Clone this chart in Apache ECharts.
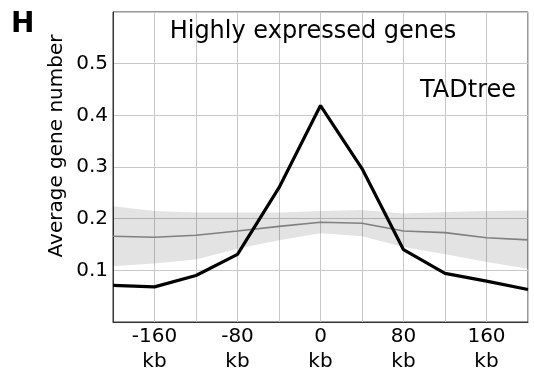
<!DOCTYPE html>
<html>
<head>
<meta charset="utf-8">
<script src="https://cdn.jsdelivr.net/npm/echarts@6/dist/echarts.min.js"></script>
<style>html,body{margin:0;padding:0;background:#fff}#c{width:534px;height:370px}</style>
</head>
<body>
<div id="c"></div>
<script>
const positions = [-200, -160, -120, -80, -40, 0, 40, 80, 120, 160, 200];
const observed = [0.071, 0.068, 0.090, 0.131, 0.260, 0.419, 0.297, 0.140, 0.094, 0.079, 0.063];
const expectedMean = [0.166, 0.164, 0.168, 0.176, 0.185, 0.193, 0.191, 0.176, 0.173, 0.163, 0.159];
const bandLower = [0.108, 0.113, 0.121, 0.142, 0.158, 0.172, 0.166, 0.145, 0.131, 0.116, 0.103];
const bandUpper = [0.224, 0.215, 0.212, 0.212, 0.212, 0.215, 0.217, 0.210, 0.213, 0.215, 0.216];
const xTickLabels = [-160, -80, 0, 80, 160];
const yTickLabels = [0.1, 0.2, 0.3, 0.4, 0.5];

const font = 'DejaVu Sans';
const pairs = (ys) => positions.map((x, i) => [x, ys[i]]);

const chart = echarts.init(document.getElementById('c'), null, {renderer: 'canvas'});
chart.setOption({
  animation: false,
  backgroundColor: '#fff',
  grid: {left: 113, right: 6, top: 12, bottom: 48, outerBoundsMode: 'none', containLabel: false,
         show: true, borderColor: '#333', borderWidth: 1, backgroundColor: 'transparent'},
  title: [
    {text: 'Highly expressed genes', left: 308, top: 15, textAlign: 'center',
     textStyle: {fontFamily: font, fontSize: 24, fontWeight: 'normal', color: '#000'}},
    {text: 'TADtree', right: 13, top: 74,
     textStyle: {fontFamily: font, fontSize: 24, fontWeight: 'normal', color: '#000'}},
    {text: 'H', left: 6, top: 6,
     textStyle: {fontFamily: font, fontSize: 28, fontWeight: 'bold', color: '#000'}}
  ],
  graphic: [
    {type: 'text', x: 57, y: 146, rotation: Math.PI / 2, z: 10,
     style: {text: 'Average gene number', font: '20px "DejaVu Sans"', fill: '#000', align: 'center', verticalAlign: 'middle'}}
  ],
  xAxis: {
    type: 'value', min: -200, max: 200, interval: 40,
    axisLine: {show: true, onZero: false, lineStyle: {color: '#333', width: 1}},
    axisTick: {show: false},
    splitLine: {show: true, lineStyle: {color: '#c8c8c8', width: 1}},
    axisLabel: {
      fontFamily: font, fontSize: 20, color: '#000', lineHeight: 25, margin: 2,
      showMinLabel: false, showMaxLabel: false,
      formatter: (v) => xTickLabels.indexOf(v) >= 0 ? v + '\nkb' : ''
    }
  },
  yAxis: {
    type: 'value', min: 0, max: 0.6, interval: 0.1,
    axisLine: {show: true, onZero: false, lineStyle: {color: '#333', width: 1}},
    axisTick: {show: false},
    splitLine: {show: true, lineStyle: {color: '#c8c8c8', width: 1}},
    axisLabel: {
      fontFamily: font, fontSize: 20, color: '#000', margin: 5,
      formatter: (v) => { const r = Math.round(v * 10) / 10; return yTickLabels.indexOf(r) >= 0 ? r.toFixed(1) : ''; }
    }
  },
  series: [
    {type: 'custom', silent: true, z: 1,
     data: positions.map((x, i) => [x, bandLower[i], bandUpper[i]]),
     renderItem: (params, api) => {
       if (params.dataIndex !== 0) return null;
       const upper = positions.map((x, i) => api.coord([x, bandUpper[i]]));
       const lower = positions.map((x, i) => api.coord([x, bandLower[i]])).reverse();
       return {type: 'polygon', shape: {points: upper.concat(lower)}, style: {fill: 'rgba(0,0,0,0.11)'}};
     },
     encode: {x: 0, y: [1, 2]}},
    {type: 'line', data: pairs(expectedMean), symbol: 'none',
     lineStyle: {color: '#808080', width: 1.6}, z: 3},
    {type: 'line', data: pairs(observed), symbol: 'none',
     lineStyle: {color: '#000', width: 3.2}, z: 4}
  ]
});
</script>
</body>
</html>
